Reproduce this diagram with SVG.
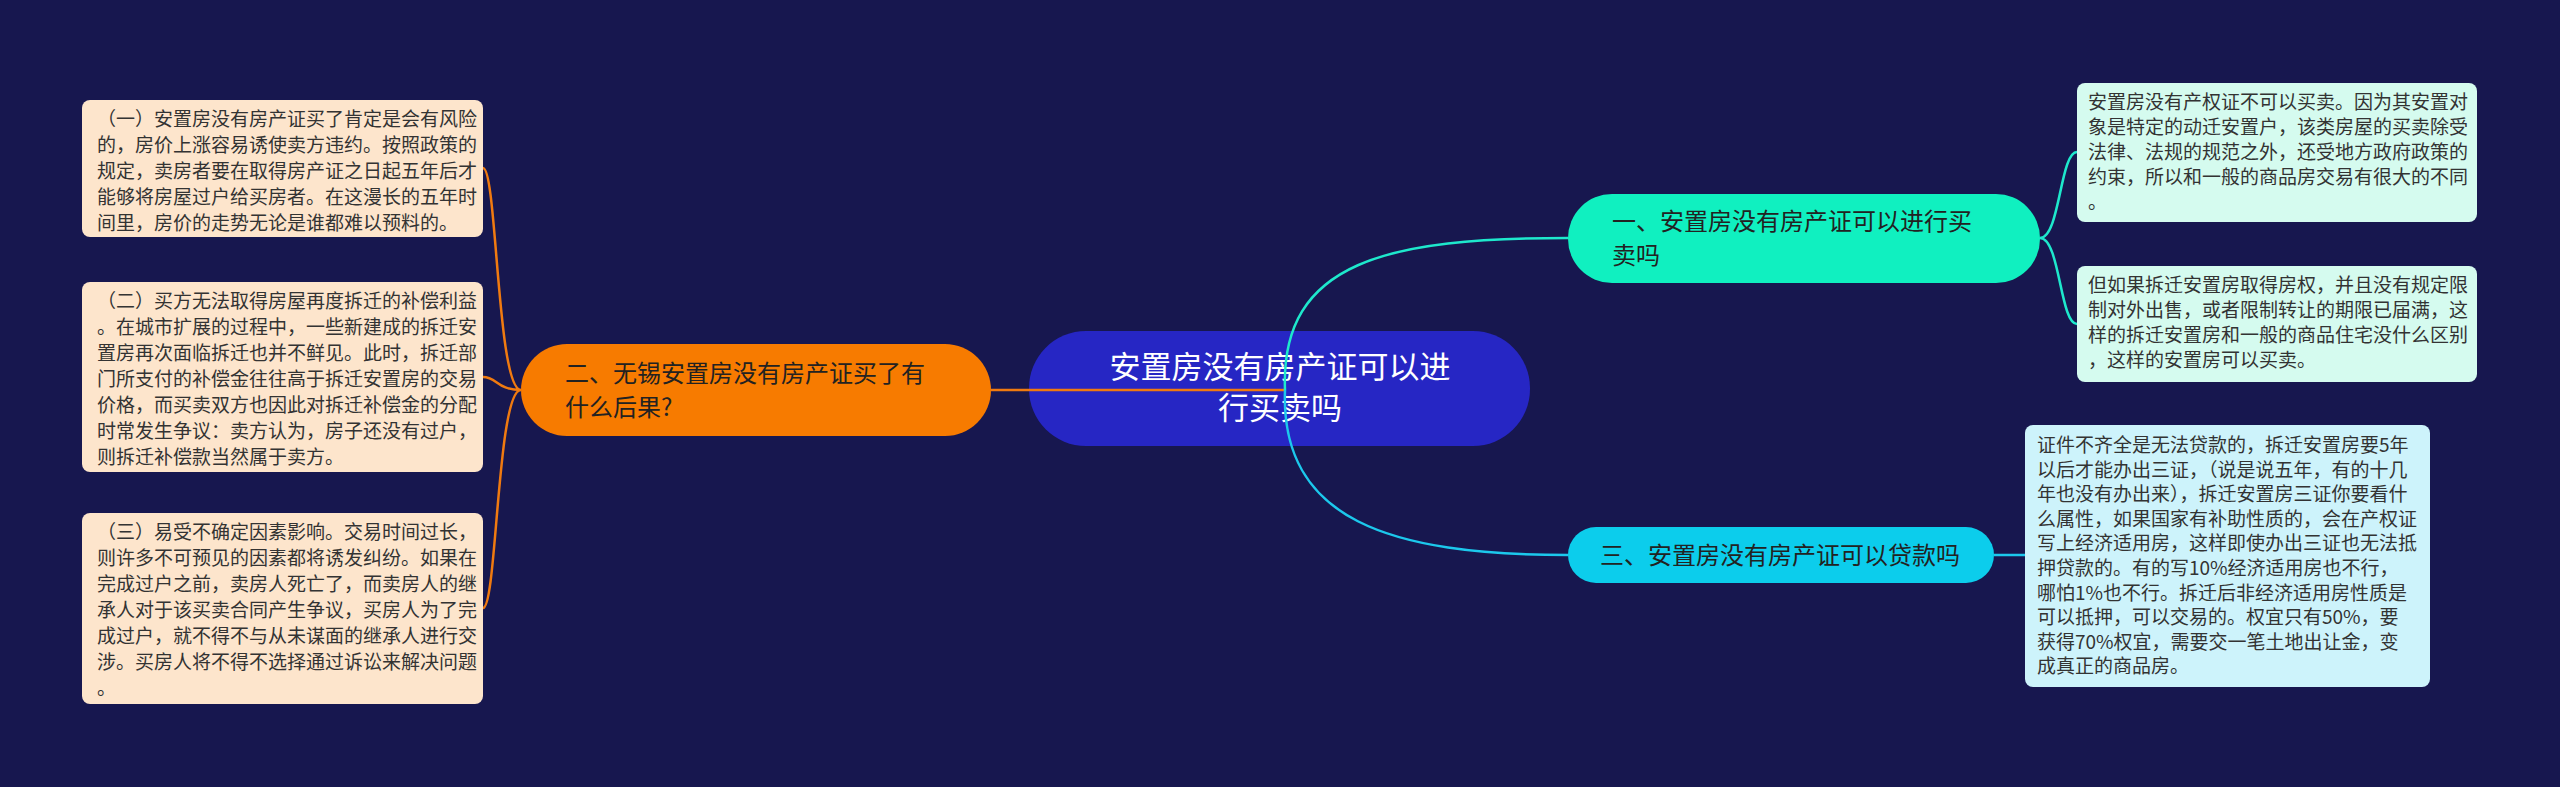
<svg xmlns="http://www.w3.org/2000/svg" width="2560" height="787" viewBox="0 0 2560 787">
<style>
.leaf{font-family:"Noto Sans CJK SC","Liberation Sans",sans-serif;font-size:19px;fill:#333}
.mid{font-family:"Noto Sans CJK SC","Liberation Sans",sans-serif;font-size:24px;fill:#222}
.c{fill:none;stroke-width:2.5}
</style>
<rect width="2560" height="787" fill="#17174f"/>
<g id="center">
<rect x="1029" y="331" width="501" height="115" rx="57" fill="#2626c4"/>
<text x="1280" y="378" text-anchor="middle" font-family="Noto Sans CJK SC,sans-serif" font-size="31" fill="#fff">安置房没有房产证可以进</text>
<text x="1280" y="419" text-anchor="middle" font-family="Noto Sans CJK SC,sans-serif" font-size="31" fill="#fff">行买卖吗</text>
</g>
<g id="connectors">
<path class="c" stroke="#f07a10" d="M1285,390 L991,390"/>
<path class="c" stroke="#f07a10" d="M521,390 C497,390 497,168 483,168 M521,390 C497,390 497,377 483,377 M521,390 C497,390 497,608 483,608"/>
<path class="c" stroke="#1ee8cc" d="M1285,390 C1280,260 1390,238 1568,238"/>
<path class="c" stroke="#1cc8ec" d="M1285,390 C1280,520 1390,555 1568,555"/>
<path class="c" stroke="#1ee8cc" d="M2040,238 C2060,238 2060,152 2077,152 M2040,238 C2060,238 2060,324 2077,324"/>
<path class="c" stroke="#1cc8ec" d="M1994,555 L2025,555"/>
</g>
<g id="n2">
<rect x="521" y="344" width="470" height="92" rx="46" fill="#f77b00"/>
<text class="mid" x="565" y="382">二、无锡安置房没有房产证买了有</text>
<text class="mid" x="565" y="416">什么后果?</text>
</g>
<g id="n1">
<rect x="1568" y="194" width="472" height="89" rx="44" fill="#10f0c0"/>
<text class="mid" x="1612" y="230">一、安置房没有房产证可以进行买</text>
<text class="mid" x="1612" y="264">卖吗</text>
</g>
<g id="n3">
<rect x="1568" y="527" width="426" height="56" rx="28" fill="#0ccdec"/>
<text class="mid" x="1600" y="564">三、安置房没有房产证可以贷款吗</text>
</g>
<g id="l1">
<rect x="82" y="100" width="401" height="137" rx="8" fill="#fde5cc"/>
<text class="leaf"><tspan x="97" y="126">（一）安置房没有房产证买了肯定是会有风险</tspan><tspan x="97" dy="26">的，房价上涨容易诱使卖方违约。按照政策的</tspan><tspan x="97" dy="26">规定，卖房者要在取得房产证之日起五年后才</tspan><tspan x="97" dy="26">能够将房屋过户给买房者。在这漫长的五年时</tspan><tspan x="97" dy="26">间里，房价的走势无论是谁都难以预料的。</tspan></text>
</g>
<g id="l2">
<rect x="82" y="282" width="401" height="190" rx="8" fill="#fde5cc"/>
<text class="leaf"><tspan x="97" y="308">（二）买方无法取得房屋再度拆迁的补偿利益</tspan><tspan x="97" dy="26">。在城市扩展的过程中，一些新建成的拆迁安</tspan><tspan x="97" dy="26">置房再次面临拆迁也并不鲜见。此时，拆迁部</tspan><tspan x="97" dy="26">门所支付的补偿金往往高于拆迁安置房的交易</tspan><tspan x="97" dy="26">价格，而买卖双方也因此对拆迁补偿金的分配</tspan><tspan x="97" dy="26">时常发生争议：卖方认为，房子还没有过户，</tspan><tspan x="97" dy="26">则拆迁补偿款当然属于卖方。</tspan></text>
</g>
<g id="l3">
<rect x="82" y="513" width="401" height="191" rx="8" fill="#fde5cc"/>
<text class="leaf"><tspan x="97" y="539">（三）易受不确定因素影响。交易时间过长，</tspan><tspan x="97" dy="26">则许多不可预见的因素都将诱发纠纷。如果在</tspan><tspan x="97" dy="26">完成过户之前，卖房人死亡了，而卖房人的继</tspan><tspan x="97" dy="26">承人对于该买卖合同产生争议，买房人为了完</tspan><tspan x="97" dy="26">成过户，就不得不与从未谋面的继承人进行交</tspan><tspan x="97" dy="26">涉。买房人将不得不选择通过诉讼来解决问题</tspan><tspan x="97" dy="26">。</tspan></text>
</g>
<g id="r1">
<rect x="2077" y="83" width="400" height="139" rx="8" fill="#d5fbef"/>
<text class="leaf"><tspan x="2088" y="109">安置房没有产权证不可以买卖。因为其安置对</tspan><tspan x="2088" dy="25">象是特定的动迁安置户，该类房屋的买卖除受</tspan><tspan x="2088" dy="25">法律、法规的规范之外，还受地方政府政策的</tspan><tspan x="2088" dy="25">约束，所以和一般的商品房交易有很大的不同</tspan><tspan x="2088" dy="25">。</tspan></text>
</g>
<g id="r2">
<rect x="2077" y="266" width="400" height="116" rx="8" fill="#d5fbef"/>
<text class="leaf"><tspan x="2088" y="292">但如果拆迁安置房取得房权，并且没有规定限</tspan><tspan x="2088" dy="25">制对外出售，或者限制转让的期限已届满，这</tspan><tspan x="2088" dy="25">样的拆迁安置房和一般的商品住宅没什么区别</tspan><tspan x="2088" dy="25">，这样的安置房可以买卖。</tspan></text>
</g>
<g id="r3">
<rect x="2025" y="425" width="405" height="262" rx="8" fill="#cdf3fb"/>
<text class="leaf"><tspan x="2037" y="452">证件不齐全是无法贷款的，拆迁安置房要5年</tspan><tspan x="2037" dy="24.6">以后才能办出三证，（说是说五年，有的十几</tspan><tspan x="2037" dy="24.6">年也没有办出来），拆迁安置房三证你要看什</tspan><tspan x="2037" dy="24.6">么属性，如果国家有补助性质的，会在产权证</tspan><tspan x="2037" dy="24.6">写上经济适用房，这样即使办出三证也无法抵</tspan><tspan x="2037" dy="24.6">押贷款的。有的写10%经济适用房也不行，</tspan><tspan x="2037" dy="24.6">哪怕1%也不行。拆迁后非经济适用房性质是</tspan><tspan x="2037" dy="24.6">可以抵押，可以交易的。权宜只有50%，要</tspan><tspan x="2037" dy="24.6">获得70%权宜，需要交一笔土地出让金，变</tspan><tspan x="2037" dy="24.6">成真正的商品房。</tspan></text>
</g>
</svg>
